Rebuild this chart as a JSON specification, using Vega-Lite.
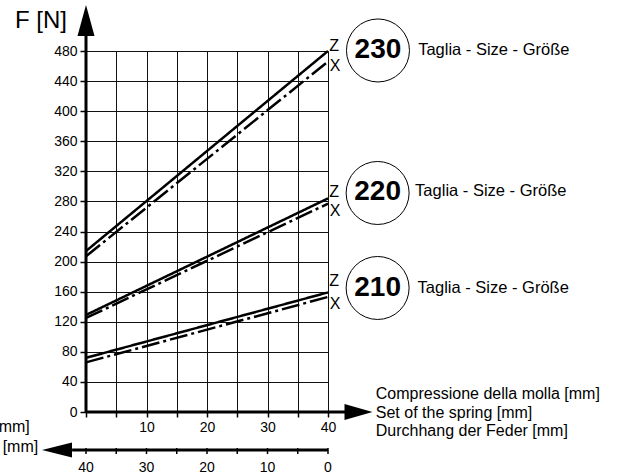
{
  "$schema": "https://vega.github.io/schema/vega-lite/v6.json",
  "autosize": "none",
  "width": 242,
  "height": 361,
  "padding": {"left": 86, "top": 51, "right": 299, "bottom": 62},
  "background": "white",
  "config": {
    "view": {"stroke": null},
    "font": "Liberation Sans",
    "text": {"font": "Liberation Sans", "color": "black"}
  },
  "datasets": {
    "lines": [
      {"size": "230", "s": "Z", "x": 0, "y": 214},
      {"size": "230", "s": "Z", "x": 40, "y": 480},
      {"size": "230", "s": "X", "x": 0, "y": 207},
      {"size": "230", "s": "X", "x": 40, "y": 466},
      {"size": "220", "s": "Z", "x": 0, "y": 129},
      {"size": "220", "s": "Z", "x": 40, "y": 284},
      {"size": "220", "s": "X", "x": 0, "y": 125},
      {"size": "220", "s": "X", "x": 40, "y": 277},
      {"size": "210", "s": "Z", "x": 0, "y": 72},
      {"size": "210", "s": "Z", "x": 40, "y": 159},
      {"size": "210", "s": "X", "x": 0, "y": 66},
      {"size": "210", "s": "X", "x": 40, "y": 153}
    ],
    "axislines": [
      {"x": 0, "y": 0, "x2": 0, "y2": 500},
      {"x": 0, "y": 0, "x2": 43, "y2": 0},
      {"x": -2.3, "y": -50.5, "x2": 40, "y2": -50.5}
    ],
    "ticks2": [
      {"x": 0, "y": -47.9, "y2": -55.9},
      {"x": 5, "y": -47.9, "y2": -55.9},
      {"x": 10, "y": -47.9, "y2": -55.9},
      {"x": 15, "y": -47.9, "y2": -55.9},
      {"x": 20, "y": -47.9, "y2": -55.9},
      {"x": 25, "y": -47.9, "y2": -55.9},
      {"x": 30, "y": -47.9, "y2": -55.9},
      {"x": 35, "y": -47.9, "y2": -55.9},
      {"x": 40, "y": -47.9, "y2": -55.9}
    ],
    "labels2": [
      {"x": 0, "y": -74.5, "t": "40"},
      {"x": 10, "y": -74.5, "t": "30"},
      {"x": 20, "y": -74.5, "t": "20"},
      {"x": 30, "y": -74.5, "t": "10"},
      {"x": 40, "y": -74.5, "t": "0"}
    ],
    "circles": [
      {"x": 48.26, "y": 480.7, "t": "230", "ty": 481.3},
      {"x": 48.2, "y": 291.2, "t": "220", "ty": 292.5},
      {"x": 48.2, "y": 164.9, "t": "210", "ty": 164.9}
    ],
    "taglia": [
      {"x": 54.9, "y": 481.3, "t": "Taglia - Size - Größe"},
      {"x": 54.4, "y": 293.9, "t": "Taglia - Size - Größe"},
      {"x": 54.8, "y": 165.5, "t": "Taglia - Size - Größe"}
    ],
    "zx": [
      {"x": 40.2, "y": 486.6, "t": "Z"},
      {"x": 40.3, "y": 460, "t": "X"},
      {"x": 40.2, "y": 292.5, "t": "Z"},
      {"x": 40.3, "y": 267.3, "t": "X"},
      {"x": 40.2, "y": 174.2, "t": "Z"},
      {"x": 40.3, "y": 143.6, "t": "X"}
    ],
    "ytitle": [{"x": -11.74, "y": 519.5, "t": "F [N]"}],
    "xtitle": [
      {"x": 47.9, "y": 23.7, "t": "Compressione della molla [mm]"},
      {"x": 47.9, "y": -0.7, "t": "Set of the spring [mm]"},
      {"x": 47.9, "y": -25, "t": "Durchhang der Feder [mm]"}
    ],
    "lefttext": [
      {"x": -9.3, "y": -19.5, "t": "mm]"},
      {"x": -7.9, "y": -46.5, "t": "[mm]"}
    ],
    "arrowUp": [{"x": 0, "y": 520.6}],
    "arrowRight": [{"x": 45.04, "y": 0}],
    "arrowLeft": [{"x": -4.79, "y": -50.5}]
  },
  "encoding": {
    "x": {
      "field": "x",
      "type": "quantitative",
      "scale": {"domain": [0, 40], "nice": false, "zero": false},
      "axis": {
        "title": null,
        "values": [0, 5, 10, 15, 20, 25, 30, 35, 40],
        "labelExpr": "datum.value % 10 == 0 && datum.value > 0 ? datum.label : ''",
        "domain": false,
        "ticks": true,
        "tickSize": 5,
        "tickColor": "black",
        "tickWidth": 1.5,
        "labelFont": "Liberation Sans",
        "labelFontSize": 14,
        "labelColor": "black",
        "labelPadding": 3,
        "labelFlush": false,
        "labelOverlap": false,
        "grid": true,
        "gridColor": "#111",
        "gridWidth": 1,
        "gridOpacity": 1
      }
    },
    "y": {
      "field": "y",
      "type": "quantitative",
      "scale": {"domain": [0, 480], "nice": false, "zero": false},
      "axis": {
        "title": null,
        "values": [0, 40, 80, 120, 160, 200, 240, 280, 320, 360, 400, 440, 480],
        "domain": false,
        "ticks": true,
        "tickSize": 6,
        "tickColor": "black",
        "tickWidth": 1.5,
        "labelFont": "Liberation Sans",
        "labelFontSize": 14,
        "labelColor": "black",
        "labelPadding": 3,
        "labelFlush": false,
        "labelOverlap": false,
        "grid": true,
        "gridColor": "#111",
        "gridWidth": 1,
        "gridOpacity": 1
      }
    }
  },
  "layer": [
    {
      "data": {"name": "lines"},
      "mark": {"type": "line", "color": "black", "strokeWidth": 2.5, "strokeCap": "butt"},
      "encoding": {
        "detail": {"field": "size", "type": "nominal"},
        "strokeDash": {
          "field": "s",
          "type": "nominal",
          "scale": {"domain": ["Z", "X"], "range": [[1, 0], [18, 4, 3, 4]]},
          "legend": null
        }
      }
    },
    {
      "data": {"name": "axislines"},
      "mark": {"type": "rule", "color": "black", "strokeWidth": 3},
      "encoding": {
        "x2": {"field": "x2"},
        "y2": {"field": "y2"}
      }
    },
    {
      "data": {"name": "ticks2"},
      "mark": {"type": "rule", "color": "black", "strokeWidth": 1.5},
      "encoding": {
        "y2": {"field": "y2"}
      }
    },
    {
      "data": {"name": "labels2"},
      "mark": {"type": "text", "fontSize": 14, "align": "center", "baseline": "middle"},
      "encoding": {"text": {"field": "t"}}
    },
    {
      "data": {"name": "circles"},
      "mark": {"type": "point", "shape": "circle", "size": 3969, "filled": false, "stroke": "black", "strokeWidth": 1, "opacity": 1},
      "encoding": {}
    },
    {
      "data": {"name": "circles"},
      "mark": {"type": "text", "fontSize": 28, "fontWeight": "bold", "align": "center", "baseline": "middle"},
      "encoding": {
        "y": {"field": "ty", "type": "quantitative"},
        "text": {"field": "t"}
      }
    },
    {
      "data": {"name": "taglia"},
      "mark": {"type": "text", "fontSize": 16.5, "align": "left", "baseline": "middle"},
      "encoding": {"text": {"field": "t"}}
    },
    {
      "data": {"name": "zx"},
      "mark": {"type": "text", "fontSize": 16, "align": "left", "baseline": "middle"},
      "encoding": {"text": {"field": "t"}}
    },
    {
      "data": {"name": "ytitle"},
      "mark": {"type": "text", "fontSize": 24, "align": "left", "baseline": "middle"},
      "encoding": {"text": {"field": "t"}}
    },
    {
      "data": {"name": "xtitle"},
      "mark": {"type": "text", "fontSize": 16, "align": "left", "baseline": "middle"},
      "encoding": {"text": {"field": "t"}}
    },
    {
      "data": {"name": "lefttext"},
      "mark": {"type": "text", "fontSize": 16, "align": "right", "baseline": "middle"},
      "encoding": {"text": {"field": "t"}}
    },
    {
      "data": {"name": "arrowUp"},
      "mark": {"type": "point", "shape": "M0,-1L0.55,1L-0.55,1Z", "size": 961, "filled": true, "color": "black", "opacity": 1},
      "encoding": {}
    },
    {
      "data": {"name": "arrowRight"},
      "mark": {"type": "point", "shape": "M1,0L-1,-0.57L-1,0.57Z", "size": 784, "filled": true, "color": "black", "opacity": 1},
      "encoding": {}
    },
    {
      "data": {"name": "arrowLeft"},
      "mark": {"type": "point", "shape": "M-1,0L1,-0.5L1,0.5Z", "size": 900, "filled": true, "color": "black", "opacity": 1},
      "encoding": {}
    }
  ]
}
